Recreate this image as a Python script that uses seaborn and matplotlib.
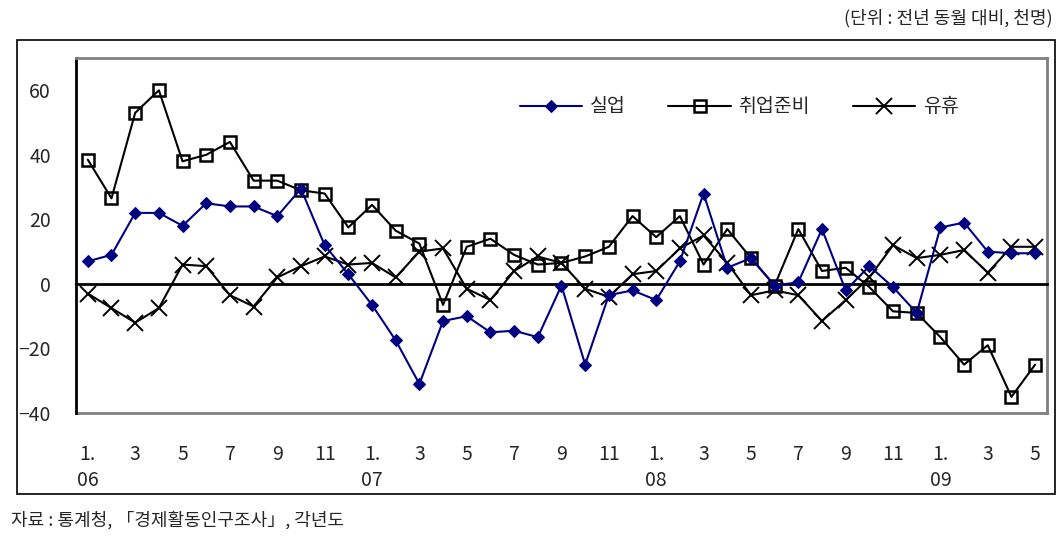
import pandas as pd
import seaborn as sns
import matplotlib.pyplot as plt
from matplotlib.patches import Rectangle

sns.set_style("white")
plt.rcParams['font.family'] = ['Noto Sans CJK KR', 'DejaVu Sans']

# 2006.01 ~ 2009.05, 전년 동월 대비 증감 (천명)
months = list(range(41))
unemployed = [7, 9, 22, 22, 18, 25, 24, 24, 21, 29.5, 12, 3,
              -6.5, -17.5, -31, -11.5, -10, -15, -14.5, -16.5, -0.5, -25, -3.5, -2,
              -5, 7, 28, 5, 8, -0.5, 0.5, 17, -2, 5.5, -1, -9,
              17.5, 19, 10, 9.5, 9.5]
job_prep = [38.5, 26.5, 53, 60, 38, 40, 44, 32, 32, 29, 28, 17.5,
            24.5, 16.5, 12.5, -6.5, 11.5, 14, 9, 6, 6.5, 8.5, 11.5, 21,
            14.5, 21, 6, 17, 8, -0.5, 17, 4, 5, -1, -8.5, -9,
            -16.5, -25, -19, -35, -25]
idle = [-3, -7.5, -12, -7.5, 6, 5.5, -3.5, -7, 2, 5.5, 8.5, 6,
        6.5, 2, 10, 11, -1.5, -5, 4, 8.5, 6.5, -1.5, -4, 3,
        4, 11, 15, 6.5, -3.5, -2, -3.5, -11.5, -5, 2, 12, 8,
        9, 10.5, 3.5, 11.5, 11.5]

tick_labels = ["1.\n06", "3", "5", "7", "9", "11",
               "1.\n07", "3", "5", "7", "9", "11",
               "1.\n08", "3", "5", "7", "9", "11",
               "1.\n09", "3", "5"]
y_ticks = [-40, -20, 0, 20, 40, 60]

df = pd.DataFrame({"month": months, "실업": unemployed, "취업준비": job_prep, "유휴": idle})
long_df = df.melt(id_vars="month", var_name="구분", value_name="value")

fig = plt.figure(figsize=(10.64, 5.43), dpi=100)
ax = fig.add_axes([0.0714, 0.2394, 0.9126, 0.6538])

styles = {
    "실업": dict(color="#000080", marker="D", markersize=6.5,
               markerfacecolor="#000080", markeredgecolor="#000080", zorder=5),
    "취업준비": dict(color="black", marker="s", markersize=8,
                 markerfacecolor="none", markeredgecolor="black",
                 markeredgewidth=1.8, zorder=3),
    "유휴": dict(color="black", marker="x", markersize=11,
               markeredgecolor="black", markeredgewidth=1.4, zorder=4),
}
for name, st in styles.items():
    sub = long_df[long_df["구분"] == name]
    sns.lineplot(data=sub, x="month", y="value", ax=ax, label=name,
                 linewidth=1.5, **st)

ax.set_xlim(-0.5, 40.5)
ax.set_ylim(-40, 70)
ax.set_xlabel("")
ax.set_ylabel("")

# zero line with category tick marks
ax.spines['bottom'].set_position(('data', 0))
ax.spines['bottom'].set_color("black")
ax.spines['bottom'].set_linewidth(2)
ax.set_xticks([m + 0.5 for m in months[:-1]])
ax.tick_params(axis='x', direction='in', length=8, width=2, color='black',
               labelbottom=False)

ax.set_yticks(y_ticks)
ax.tick_params(axis='y', direction='out', length=6, width=2, color='black',
               labelsize=14, pad=12)
ax.spines['left'].set_color("black")
ax.spines['left'].set_linewidth(2)
for s in ['top', 'right']:
    ax.spines[s].set_color("#808080")
    ax.spines[s].set_linewidth(2)

secx = ax.secondary_xaxis('bottom')
secx.set_xticks(months[::2], tick_labels)
secx.tick_params(length=0, pad=22, labelsize=14)
secx.spines['bottom'].set_color("#808080")
secx.spines['bottom'].set_linewidth(2)
for lab in secx.get_xticklabels():
    lab.set_linespacing(1.35)

ax.legend(ncol=3, frameon=False, loc='center', bbox_to_anchor=(0.683, 0.862),
          fontsize=14, handlelength=3.2, columnspacing=2.2, handletextpad=0.4)

fig.add_artist(Rectangle((0.016, 0.0902), 0.9755, 0.836, transform=fig.transFigure,
                         fill=False, edgecolor="black", linewidth=1.2))

fig.text(0.989, 0.967, "(단위 : 전년 동월 대비, 천명)", ha='right', va='center', fontsize=13)
fig.text(0.01, 0.042, "자료 : 통계청, 「경제활동인구조사」, 각년도", ha='left', va='center', fontsize=13)

fig.savefig("out.png", dpi=100)
